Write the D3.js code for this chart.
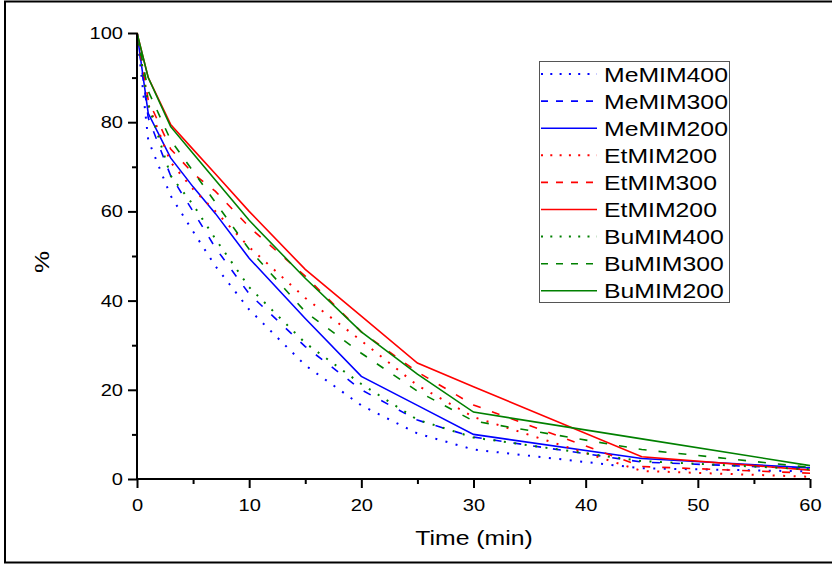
<!DOCTYPE html>
<html>
<head>
<meta charset="utf-8">
<script src="https://cdn.jsdelivr.net/npm/d3@7"></script>
<style>
    html, body { margin: 0; padding: 0; background: #fff; }
    svg text { font-family: "Liberation Sans", Arial, sans-serif; fill: #000; }
</style>
</head>
<body>
<div id="chart"></div>
<script>

// sampling times (min)
const times = [0, 1, 3, 5, 7, 10, 15, 20, 25, 30, 45, 60];

// remaining percentage per series
const meMIM400 = [100, 76, 63.5, 55.5, 47.7, 38, 25.5, 16.5, 10.2, 6.6, 2.4, 1.7];
const meMIM300 = [100, 81, 68, 60, 51.8, 41.5, 29.7, 20, 13.2, 9.4, 3.8, 2.3];
const meMIM200 = [100, 82, 72, 65.5, 59.5, 49.5, 36, 23, 16.5, 10, 4.6, 2.5];
const etMIM400 = [100, 84, 71, 65, 60, 52, 40.6, 31, 21, 13.9, 1.8, 0.5];
const etMIM300 = [100, 85, 74, 68.5, 64.5, 56.5, 45.5, 33, 24, 16.6, 2.8, 1.3];
const etMIM200 = [100, 90, 79.5, 73.9, 68.4, 60, 47, 36.5, 26, 20.7, 5, 2];
const buMIM400 = [100, 84, 68, 61.5, 53.8, 43, 30.5, 21.3, 13.3, 9.3, 4, 2.2];
const buMIM300 = [100, 87, 76, 69, 62, 51.5, 37.5, 28.2, 19.7, 13, 6.6, 2.6];
const buMIM200 = [100, 90, 79, 73, 67, 58, 45, 33, 23.5, 15, 9, 3];

// legend text as printed on the original (label typo kept)
const seriesNames = ["MeMIM400", "MeMIM300", "MeMIM200", "EtMIM200", "EtMIM300", "EtMIM200", "BuMIM400", "BuMIM300", "BuMIM200"];
const seriesValues = [meMIM400, meMIM300, meMIM200, etMIM400, etMIM300, etMIM200, buMIM400, buMIM300, buMIM200];

const xMajorTicks = [0, 10, 20, 30, 40, 50, 60];
const xMinorTicks = [5, 15, 25, 35, 45, 55];
const yMajorTicks = [0, 20, 40, 60, 80, 100];
const yMinorTicks = [10, 30, 50, 70, 90];

class DecayChart {

    constructor() {
        this.width = 832;
        this.height = 566;

        this.colors = ["#0000ff", "#0000ff", "#0000ff", "#ff0000", "#ff0000", "#ff0000", "#008000", "#008000", "#008000"];
        // dotted, dashed, solid repeated for each cation
        this.kinds = ["dot", "dash", "solid", "dot", "dash", "solid", "dot", "dash", "solid"];

        this.svg = d3.select("#chart").append("svg")
            .attr("width", this.width)
            .attr("height", this.height);

        this.xScale = d3.scaleLinear().domain([0, 60]).range([137, 810]);
        this.yScale = d3.scaleLinear().domain([0, 100]).range([479, 33]);

        this.drawFrame();
        this.drawLines();
        this.drawAxes();
        this.drawLegend();
        this.widenText();
    }

    dashFor(kind, legend) {
        if (kind == "dot") return legend ? "2,7.3" : "2,8.5";
        if (kind == "dash") return legend ? "7,8" : "8,12";
        return null;
    }

    drawFrame() {
        this.svg.append("rect")
            .attr("x", 5)
            .attr("y", 1.5)
            .attr("width", 840)
            .attr("height", 561)
            .attr("fill", "none")
            .attr("stroke", "#000")
            .attr("stroke-width", 2);
    }

    drawLines() {
        let self = this;
        let line = d3.line()
            .x((d, i) => self.xScale(times[i]))
            .y(d => self.yScale(d));

        this.svg.append("g")
            .selectAll("path")
            .data(seriesValues)
            .enter().append("path")
            .attr("d", d => line(d))
            .attr("fill", "none")
            .attr("stroke", (d, i) => self.colors[i])
            .attr("stroke-width", (d, i) => self.kinds[i] == "dot" ? 2 : 1.6)
            .attr("stroke-dasharray", (d, i) => self.dashFor(self.kinds[i], false));
    }

    drawAxes() {
        let xMinor = this.svg.append("g")
            .attr("transform", "translate(0," + this.yScale(0) + ")")
            .call(d3.axisBottom(this.xScale).tickValues(xMinorTicks).tickSize(5).tickFormat(""));

        let xAxis = this.svg.append("g")
            .attr("transform", "translate(0," + this.yScale(0) + ")")
            .call(d3.axisBottom(this.xScale).tickValues(xMajorTicks).tickSize(9).tickPadding(11).tickFormat(d3.format("d")));

        let yMinor = this.svg.append("g")
            .attr("transform", "translate(" + this.xScale(0) + ",0)")
            .call(d3.axisLeft(this.yScale).tickValues(yMinorTicks).tickSize(5).tickFormat(""));

        let yAxis = this.svg.append("g")
            .attr("transform", "translate(" + this.xScale(0) + ",0)")
            .call(d3.axisLeft(this.yScale).tickValues(yMajorTicks).tickSize(9).tickPadding(5).tickFormat(d3.format("d")));

        [xMinor, xAxis, yMinor, yAxis].forEach(g => {
            g.select(".domain").attr("stroke-width", 2).attr("stroke", "#000");
            g.selectAll(".tick line").attr("stroke-width", 2).attr("stroke", "#000");
        });
        // no outer end ticks on the domain path
        xAxis.select(".domain").attr("d", "M" + this.xScale(0) + ",0H" + this.xScale(60));
        yAxis.select(".domain").attr("d", "M0," + this.yScale(0) + "V" + this.yScale(100));
        xMinor.select(".domain").remove();
        yMinor.select(".domain").remove();

        xAxis.selectAll(".tick text")
            .attr("font-family", "Liberation Sans, Arial, sans-serif")
            .attr("font-size", 17);
        yAxis.selectAll(".tick text")
            .attr("font-family", "Liberation Sans, Arial, sans-serif")
            .attr("font-size", 17);

        this.svg.append("text")
            .attr("x", 474)
            .attr("y", 545)
            .attr("text-anchor", "middle")
            .attr("font-size", 21)
            .text("Time (min)");

        this.svg.append("text")
            .attr("transform", "translate(49,262) rotate(-90)")
            .attr("text-anchor", "middle")
            .attr("font-size", 21)
            .text("%");
    }

    drawLegend() {
        let self = this;
        let legend = this.svg.append("g");

        legend.append("rect")
            .attr("x", 539.5)
            .attr("y", 61.5)
            .attr("width", 190)
            .attr("height", 241)
            .attr("fill", "#fff")
            .attr("stroke", "#555")
            .attr("stroke-width", 1);

        let rows = legend.selectAll(".row")
            .data(seriesNames)
            .enter().append("g")
            .attr("class", "row")
            .attr("transform", (d, i) => "translate(0," + (74 + i * 27.1) + ")");

        rows.append("line")
            .attr("x1", 541)
            .attr("x2", 597)
            .attr("stroke", (d, i) => self.colors[i])
            .attr("stroke-width", (d, i) => self.kinds[i] == "dot" ? 2 : 1.6)
            .attr("stroke-dasharray", (d, i) => self.dashFor(self.kinds[i], true));

        rows.append("text")
            .attr("x", 604)
            .attr("y", 7.5)
            .attr("font-size", 21)
            .text(d => d);
    }

    // the original lettering is noticeably wider than Arial, stretch it
    widenText() {
        this.svg.selectAll("text").each(function() {
            let w = this.getComputedTextLength();
            d3.select(this)
                .attr("textLength", w * 1.18)
                .attr("lengthAdjust", "spacingAndGlyphs");
        });
    }
}

new DecayChart();
</script>
</body>
</html>
